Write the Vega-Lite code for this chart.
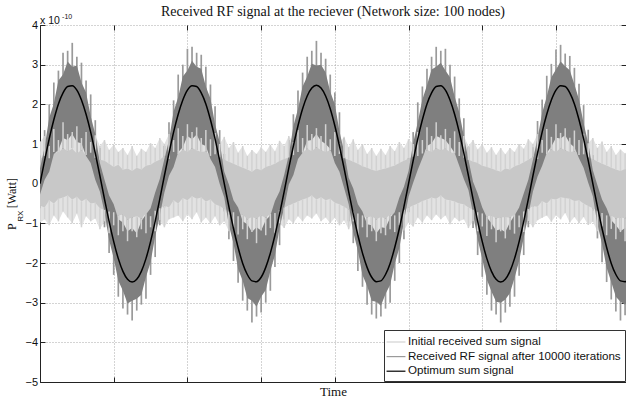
{
  "$schema": "https://vega.github.io/schema/vega-lite/v6.json",
  "width": 586,
  "height": 357,
  "autosize": {"type": "none"},
  "padding": {"left": 40, "top": 25, "right": 0, "bottom": 20},
  "background": "white",
  "title": {
    "text": "Received RF signal at the reciever (Network size: 100 nodes)",
    "font": "Liberation Serif",
    "fontSize": 14,
    "fontWeight": "normal",
    "color": "#111",
    "anchor": "middle",
    "frame": "group",
    "offset": 7,
    "dy": 13
  },
  "datasets": {
    "sig": [
      {"k":0,"o":0,"a":-0.62,"b":-0.27,"c":0.38,"d":0.71,"e":-0.98,"f":-0.55,"g":0.62,"h":1.05},
      {"k":1,"o":0.58,"a":-0.3,"b":0.1,"c":0.92,"d":1.35,"e":-0.9,"f":-0.6,"g":0.7,"h":1.2},
      {"k":2,"o":1.13,"a":-0.15,"b":0.3,"c":1.66,"d":2.0,"e":-1.05,"f":-0.42,"g":0.64,"h":0.95},
      {"k":3,"o":1.61,"a":0.42,"b":0.75,"c":2.02,"d":2.55,"e":-0.8,"f":-0.5,"g":0.8,"h":1.38},
      {"k":4,"o":2.01,"a":0.5,"b":0.85,"c":2.6,"d":2.85,"e":-0.95,"f":-0.38,"g":0.78,"h":1.1},
      {"k":5,"o":2.29,"a":0.7,"b":1.15,"c":2.75,"d":3.3,"e":-0.7,"f":-0.35,"g":0.9,"h":1.55},
      {"k":6,"o":2.45,"a":0.75,"b":1.1,"c":3.08,"d":3.35,"e":-0.85,"f":-0.3,"g":0.82,"h":1.25},
      {"k":7,"o":2.47,"a":0.9,"b":1.25,"c":2.95,"d":3.55,"e":-1.0,"f":-0.4,"g":0.88,"h":1.3},
      {"k":8,"o":2.36,"a":0.6,"b":1.05,"c":2.98,"d":3.2,"e":-0.75,"f":-0.33,"g":0.76,"h":1.45},
      {"k":9,"o":2.11,"a":0.55,"b":1.02,"c":2.55,"d":3.05,"e":-1.1,"f":-0.45,"g":0.85,"h":1.15},
      {"k":10,"o":1.75,"a":0.3,"b":0.7,"c":2.3,"d":2.6,"e":-0.82,"f":-0.38,"g":0.72,"h":1.3},
      {"k":11,"o":1.3,"a":0.1,"b":0.52,"c":1.7,"d":2.25,"e":-0.95,"f":-0.5,"g":0.78,"h":1.05},
      {"k":12,"o":0.77,"a":-0.3,"b":0.1,"c":1.25,"d":1.6,"e":-0.88,"f":-0.48,"g":0.65,"h":1.22},
      {"k":13,"o":0.2,"a":-0.55,"b":-0.2,"c":0.52,"d":0.9,"e":-1.15,"f":-0.62,"g":0.6,"h":0.95},
      {"k":14,"o":-0.39,"a":-1.1,"b":-0.72,"c":0.1,"d":0.45,"e":-0.95,"f":-0.66,"g":0.58,"h":1.1},
      {"k":15,"o":-0.95,"a":-1.75,"b":-1.42,"c":-0.3,"d":0.1,"e":-1.25,"f":-0.7,"g":0.5,"h":0.85},
      {"k":16,"o":-1.46,"a":-2.3,"b":-1.88,"c":-0.52,"d":-0.1,"e":-1.05,"f":-0.72,"g":0.42,"h":0.98},
      {"k":17,"o":-1.89,"a":-2.85,"b":-2.45,"c":-0.9,"d":-0.4,"e":-1.3,"f":-0.8,"g":0.48,"h":0.8},
      {"k":18,"o":-2.21,"a":-3.15,"b":-2.7,"c":-0.98,"d":-0.6,"e":-1.2,"f":-0.78,"g":0.35,"h":0.9},
      {"k":19,"o":-2.41,"a":-3.3,"b":-3.02,"c":-1.2,"d":-0.75,"e":-1.45,"f":-0.9,"g":0.38,"h":0.72},
      {"k":20,"o":-2.48,"a":-3.45,"b":-2.95,"c":-1.12,"d":-0.7,"e":-1.2,"f":-0.85,"g":0.32,"h":0.95},
      {"k":21,"o":-2.41,"a":-3.2,"b":-2.9,"c":-1.25,"d":-0.85,"e":-1.35,"f":-0.82,"g":0.4,"h":0.7},
      {"k":22,"o":-2.21,"a":-3.05,"b":-2.8,"c":-0.95,"d":-0.5,"e":-1.15,"f":-0.88,"g":0.36,"h":0.88},
      {"k":23,"o":-1.89,"a":-2.9,"b":-2.35,"c":-0.78,"d":-0.45,"e":-1.25,"f":-0.75,"g":0.45,"h":0.8},
      {"k":24,"o":-1.46,"a":-2.3,"b":-1.98,"c":-0.62,"d":-0.2,"e":-1.1,"f":-0.82,"g":0.48,"h":1.02},
      {"k":25,"o":-0.95,"a":-1.85,"b":-1.33,"c":-0.22,"d":0.15,"e":-1.2,"f":-0.68,"g":0.55,"h":0.9},
      {"k":26,"o":-0.39,"a":-1.05,"b":-0.8,"c":0.12,"d":0.5,"e":-0.92,"f":-0.62,"g":0.6,"h":1.15},
      {"k":27,"o":0.2,"a":-0.6,"b":-0.22,"c":0.62,"d":0.95,"e":-1.1,"f":-0.55,"g":0.7,"h":1.0},
      {"k":28,"o":0.77,"a":-0.25,"b":0.2,"c":1.1,"d":1.55,"e":-0.9,"f":-0.6,"g":0.62,"h":1.25},
      {"k":29,"o":1.3,"a":0.05,"b":0.42,"c":1.82,"d":2.1,"e":-0.85,"f":-0.42,"g":0.8,"h":1.1},
      {"k":30,"o":1.75,"a":0.4,"b":0.8,"c":2.18,"d":2.75,"e":-0.8,"f":-0.5,"g":0.75,"h":1.4},
      {"k":31,"o":2.11,"a":0.45,"b":0.92,"c":2.7,"d":3.0,"e":-0.95,"f":-0.36,"g":0.86,"h":1.2},
      {"k":32,"o":2.36,"a":0.8,"b":1.2,"c":2.85,"d":3.4,"e":-0.78,"f":-0.42,"g":0.8,"h":1.5},
      {"k":33,"o":2.47,"a":0.7,"b":1.12,"c":3.1,"d":3.45,"e":-0.9,"f":-0.32,"g":0.9,"h":1.3},
      {"k":34,"o":2.45,"a":0.85,"b":1.24,"c":2.95,"d":3.3,"e":-0.72,"f":-0.38,"g":0.84,"h":1.42},
      {"k":35,"o":2.29,"a":0.55,"b":1.0,"c":2.9,"d":3.25,"e":-0.98,"f":-0.35,"g":0.8,"h":1.15},
      {"k":36,"o":2.01,"a":0.6,"b":0.95,"c":2.45,"d":2.95,"e":-0.85,"f":-0.45,"g":0.82,"h":1.35},
      {"k":37,"o":1.61,"a":0.2,"b":0.62,"c":2.15,"d":2.5,"e":-1.0,"f":-0.4,"g":0.7,"h":1.12},
      {"k":38,"o":1.13,"a":0.0,"b":0.42,"c":1.5,"d":1.95,"e":-0.82,"f":-0.52,"g":0.74,"h":1.28},
      {"k":39,"o":0.58,"a":-0.42,"b":0.0,"c":1.05,"d":1.35,"e":-1.05,"f":-0.56,"g":0.66,"h":1.0},
      {"k":40,"o":0,"a":-0.7,"b":-0.35,"c":0.3,"d":0.75,"e":-0.95,"f":-0.64,"g":0.6,"h":1.18},
      {"k":41,"o":-0.58,"a":-1.4,"b":-1.05,"c":-0.02,"d":0.35,"e":-1.2,"f":-0.7,"g":0.55,"h":0.9},
      {"k":42,"o":-1.13,"a":-1.95,"b":-1.5,"c":-0.42,"d":-0.05,"e":-1.1,"f":-0.72,"g":0.5,"h":1.05},
      {"k":43,"o":-1.61,"a":-2.5,"b":-2.15,"c":-0.6,"d":-0.3,"e":-1.28,"f":-0.82,"g":0.45,"h":0.78},
      {"k":44,"o":-2.01,"a":-2.95,"b":-2.45,"c":-0.95,"d":-0.5,"e":-1.15,"f":-0.78,"g":0.4,"h":0.95},
      {"k":45,"o":-2.29,"a":-3.2,"b":-2.88,"c":-1.02,"d":-0.65,"e":-1.4,"f":-0.9,"g":0.36,"h":0.7},
      {"k":46,"o":-2.45,"a":-3.5,"b":-2.95,"c":-1.22,"d":-0.8,"e":-1.22,"f":-0.84,"g":0.3,"h":0.85},
      {"k":47,"o":-2.47,"a":-3.35,"b":-3.1,"c":-1.1,"d":-0.72,"e":-1.5,"f":-0.88,"g":0.38,"h":0.75},
      {"k":48,"o":-2.36,"a":-3.25,"b":-2.85,"c":-1.18,"d":-0.7,"e":-1.18,"f":-0.8,"g":0.34,"h":0.92},
      {"k":49,"o":-2.11,"a":-3.0,"b":-2.68,"c":-0.92,"d":-0.55,"e":-1.3,"f":-0.86,"g":0.42,"h":0.8},
      {"k":50,"o":-1.75,"a":-2.7,"b":-2.2,"c":-0.8,"d":-0.38,"e":-1.12,"f":-0.76,"g":0.46,"h":0.98},
      {"k":51,"o":-1.3,"a":-2.1,"b":-1.8,"c":-0.44,"d":-0.1,"e":-1.25,"f":-0.74,"g":0.5,"h":0.82},
      {"k":52,"o":-0.77,"a":-1.55,"b":-1.12,"c":-0.2,"d":0.2,"e":-1.0,"f":-0.66,"g":0.57,"h":1.08},
      {"k":53,"o":-0.2,"a":-0.9,"b":-0.6,"c":0.22,"d":0.55,"e":-1.12,"f":-0.6,"g":0.62,"h":0.95},
      {"k":54,"o":0.39,"a":-0.45,"b":-0.02,"c":0.72,"d":1.1,"e":-0.9,"f":-0.55,"g":0.66,"h":1.2},
      {"k":55,"o":0.95,"a":-0.15,"b":0.22,"c":1.45,"d":1.75,"e":-1.0,"f":-0.5,"g":0.72,"h":1.05},
      {"k":56,"o":1.46,"a":0.25,"b":0.62,"c":1.88,"d":2.35,"e":-0.82,"f":-0.45,"g":0.8,"h":1.35},
      {"k":57,"o":1.89,"a":0.35,"b":0.78,"c":2.45,"d":2.8,"e":-0.95,"f":-0.4,"g":0.78,"h":1.15},
      {"k":58,"o":2.21,"a":0.62,"b":1.08,"c":2.7,"d":3.2,"e":-0.8,"f":-0.36,"g":0.88,"h":1.48},
      {"k":59,"o":2.41,"a":0.72,"b":1.1,"c":3.02,"d":3.35,"e":-0.88,"f":-0.3,"g":0.82,"h":1.25},
      {"k":60,"o":2.48,"a":0.85,"b":1.25,"c":2.98,"d":3.6,"e":-0.75,"f":-0.4,"g":0.92,"h":1.4},
      {"k":61,"o":2.41,"a":0.6,"b":1.08,"c":3.0,"d":3.3,"e":-0.95,"f":-0.34,"g":0.85,"h":1.2},
      {"k":62,"o":2.21,"a":0.58,"b":1.0,"c":2.8,"d":3.15,"e":-0.85,"f":-0.42,"g":0.8,"h":1.5},
      {"k":63,"o":1.89,"a":0.45,"b":0.88,"c":2.32,"d":2.75,"e":-1.0,"f":-0.38,"g":0.84,"h":1.12},
      {"k":64,"o":1.46,"a":0.12,"b":0.52,"c":2.0,"d":2.3,"e":-0.86,"f":-0.48,"g":0.7,"h":1.3},
      {"k":65,"o":0.95,"a":-0.12,"b":0.3,"c":1.32,"d":1.8,"e":-1.05,"f":-0.52,"g":0.75,"h":1.02},
      {"k":66,"o":0.39,"a":-0.5,"b":-0.1,"c":0.82,"d":1.15,"e":-0.92,"f":-0.58,"g":0.64,"h":1.18},
      {"k":67,"o":-0.2,"a":-0.95,"b":-0.52,"c":0.15,"d":0.5,"e":-1.15,"f":-0.65,"g":0.6,"h":0.92},
      {"k":68,"o":-0.77,"a":-1.5,"b":-1.22,"c":-0.12,"d":0.25,"e":-0.95,"f":-0.7,"g":0.55,"h":1.12},
      {"k":69,"o":-1.3,"a":-2.2,"b":-1.7,"c":-0.52,"d":-0.15,"e":-1.3,"f":-0.75,"g":0.5,"h":0.85},
      {"k":70,"o":-1.75,"a":-2.6,"b":-2.3,"c":-0.7,"d":-0.35,"e":-1.1,"f":-0.8,"g":0.44,"h":1.0},
      {"k":71,"o":-2.11,"a":-3.05,"b":-2.58,"c":-1.02,"d":-0.6,"e":-1.35,"f":-0.85,"g":0.4,"h":0.75},
      {"k":72,"o":-2.36,"a":-3.3,"b":-2.95,"c":-1.05,"d":-0.72,"e":-1.2,"f":-0.82,"g":0.35,"h":0.9},
      {"k":73,"o":-2.47,"a":-3.4,"b":-2.98,"c":-1.25,"d":-0.8,"e":-1.45,"f":-0.9,"g":0.32,"h":0.7},
      {"k":74,"o":-2.45,"a":-3.35,"b":-3.08,"c":-1.1,"d":-0.68,"e":-1.25,"f":-0.84,"g":0.36,"h":0.88},
      {"k":75,"o":-2.29,"a":-3.15,"b":-2.78,"c":-1.12,"d":-0.7,"e":-1.3,"f":-0.88,"g":0.38,"h":0.72},
      {"k":76,"o":-2.01,"a":-3.0,"b":-2.55,"c":-0.86,"d":-0.45,"e":-1.15,"f":-0.78,"g":0.42,"h":0.95},
      {"k":77,"o":-1.61,"a":-2.45,"b":-2.02,"c":-0.72,"d":-0.3,"e":-1.22,"f":-0.8,"g":0.46,"h":0.82},
      {"k":78,"o":-1.13,"a":-2.0,"b":-1.62,"c":-0.35,"d":0.0,"e":-1.05,"f":-0.72,"g":0.52,"h":1.05},
      {"k":79,"o":-0.58,"a":-1.4,"b":-0.95,"c":-0.08,"d":0.3,"e":-1.18,"f":-0.66,"g":0.58,"h":0.9},
      {"k":80,"o":0,"a":-0.72,"b":-0.33,"c":0.32,"d":0.65,"e":-0.98,"f":-0.6,"g":0.63,"h":1.12},
      {"k":81,"o":0.58,"a":-0.4,"b":0.02,"c":1.02,"d":1.3,"e":-1.08,"f":-0.55,"g":0.68,"h":1.0},
      {"k":82,"o":1.13,"a":-0.05,"b":0.35,"c":1.55,"d":2.05,"e":-0.85,"f":-0.5,"g":0.7,"h":1.3},
      {"k":83,"o":1.61,"a":0.25,"b":0.64,"c":2.12,"d":2.45,"e":-0.98,"f":-0.44,"g":0.76,"h":1.1},
      {"k":84,"o":2.01,"a":0.55,"b":0.95,"c":2.48,"d":2.9,"e":-0.8,"f":-0.4,"g":0.85,"h":1.42},
      {"k":85,"o":2.29,"a":0.6,"b":1.02,"c":2.88,"d":3.2,"e":-0.92,"f":-0.35,"g":0.8,"h":1.2},
      {"k":86,"o":2.45,"a":0.8,"b":1.2,"c":2.95,"d":3.45,"e":-0.78,"f":-0.38,"g":0.9,"h":1.55},
      {"k":87,"o":2.47,"a":0.7,"b":1.15,"c":3.05,"d":3.35,"e":-0.9,"f":-0.3,"g":0.84,"h":1.22},
      {"k":88,"o":2.36,"a":0.72,"b":1.1,"c":2.85,"d":3.4,"e":-0.8,"f":-0.4,"g":0.88,"h":1.38},
      {"k":89,"o":2.11,"a":0.5,"b":0.95,"c":2.68,"d":3.0,"e":-1.02,"f":-0.42,"g":0.8,"h":1.15},
      {"k":90,"o":1.75,"a":0.35,"b":0.78,"c":2.2,"d":2.7,"e":-0.85,"f":-0.45,"g":0.76,"h":1.32},
      {"k":91,"o":1.3,"a":0.05,"b":0.45,"c":1.8,"d":2.15,"e":-0.95,"f":-0.5,"g":0.7,"h":1.05},
      {"k":92,"o":0.77,"a":-0.28,"b":0.12,"c":1.2,"d":1.65,"e":-0.9,"f":-0.52,"g":0.66,"h":1.2},
      {"k":93,"o":0.2,"a":-0.5,"b":-0.16,"c":0.6,"d":0.92,"e":-1.12,"f":-0.6,"g":0.6,"h":0.95},
      {"k":94,"o":-0.39,"a":-1.12,"b":-0.75,"c":0.05,"d":0.4,"e":-0.95,"f":-0.66,"g":0.56,"h":1.1},
      {"k":95,"o":-0.95,"a":-1.8,"b":-1.4,"c":-0.25,"d":0.12,"e":-1.2,"f":-0.72,"g":0.52,"h":0.86},
      {"k":96,"o":-1.46,"a":-2.35,"b":-1.9,"c":-0.6,"d":-0.18,"e":-1.08,"f":-0.75,"g":0.45,"h":1.0},
      {"k":97,"o":-1.89,"a":-2.8,"b":-2.42,"c":-0.85,"d":-0.45,"e":-1.32,"f":-0.82,"g":0.42,"h":0.78},
      {"k":98,"o":-2.21,"a":-3.2,"b":-2.72,"c":-1.0,"d":-0.58,"e":-1.15,"f":-0.8,"g":0.38,"h":0.92},
      {"k":99,"o":-2.41,"a":-3.3,"b":-2.98,"c":-1.18,"d":-0.78,"e":-1.48,"f":-0.88,"g":0.34,"h":0.72},
      {"k":100,"o":-2.48,"a":-3.5,"b":-3.0,"c":-1.15,"d":-0.72,"e":-1.2,"f":-0.85,"g":0.3,"h":0.9},
      {"k":101,"o":-2.41,"a":-3.25,"b":-2.92,"c":-1.22,"d":-0.82,"e":-1.38,"f":-0.84,"g":0.38,"h":0.74},
      {"k":102,"o":-2.21,"a":-3.1,"b":-2.76,"c":-0.98,"d":-0.55,"e":-1.16,"f":-0.86,"g":0.36,"h":0.9},
      {"k":103,"o":-1.89,"a":-2.85,"b":-2.38,"c":-0.8,"d":-0.42,"e":-1.26,"f":-0.77,"g":0.44,"h":0.8},
      {"k":104,"o":-1.46,"a":-2.32,"b":-1.95,"c":-0.6,"d":-0.22,"e":-1.1,"f":-0.8,"g":0.48,"h":1.0},
      {"k":105,"o":-0.95,"a":-1.8,"b":-1.36,"c":-0.25,"d":0.12,"e":-1.22,"f":-0.7,"g":0.54,"h":0.88},
      {"k":106,"o":-0.39,"a":-1.1,"b":-0.78,"c":0.1,"d":0.48,"e":-0.94,"f":-0.64,"g":0.6,"h":1.12},
      {"k":107,"o":0.2,"a":-0.58,"b":-0.2,"c":0.6,"d":0.92,"e":-1.1,"f":-0.56,"g":0.68,"h":1.0},
      {"k":108,"o":0.77,"a":-0.22,"b":0.18,"c":1.15,"d":1.58,"e":-0.92,"f":-0.58,"g":0.62,"h":1.25},
      {"k":109,"o":1.3,"a":0.05,"b":0.45,"c":1.78,"d":2.12,"e":-0.86,"f":-0.44,"g":0.78,"h":1.1},
      {"k":110,"o":1.75,"a":0.38,"b":0.78,"c":2.2,"d":2.72,"e":-0.8,"f":-0.5,"g":0.74,"h":1.38},
      {"k":111,"o":2.11,"a":0.48,"b":0.94,"c":2.68,"d":3.02,"e":-0.96,"f":-0.38,"g":0.86,"h":1.18},
      {"k":112,"o":2.36,"a":0.78,"b":1.16,"c":2.88,"d":3.38,"e":-0.8,"f":-0.4,"g":0.8,"h":1.5},
      {"k":113,"o":2.47,"a":0.72,"b":1.14,"c":3.08,"d":3.5,"e":-0.9,"f":-0.34,"g":0.9,"h":1.28},
      {"k":114,"o":2.45,"a":0.82,"b":1.22,"c":2.96,"d":3.28,"e":-0.74,"f":-0.36,"g":0.84,"h":1.4},
      {"k":115,"o":2.29,"a":0.56,"b":1.02,"c":2.86,"d":3.22,"e":-0.98,"f":-0.38,"g":0.8,"h":1.16},
      {"k":116,"o":2.01,"a":0.58,"b":0.92,"c":2.5,"d":2.92,"e":-0.84,"f":-0.44,"g":0.82,"h":1.34},
      {"k":117,"o":1.61,"a":0.22,"b":0.64,"c":2.12,"d":2.52,"e":-1.0,"f":-0.42,"g":0.72,"h":1.1},
      {"k":118,"o":1.13,"a":0.02,"b":0.4,"c":1.52,"d":1.98,"e":-0.84,"f":-0.5,"g":0.74,"h":1.26},
      {"k":119,"o":0.58,"a":-0.4,"b":0.02,"c":1.02,"d":1.36,"e":-1.04,"f":-0.56,"g":0.66,"h":1.02},
      {"k":120,"o":0,"a":-0.68,"b":-0.32,"c":0.34,"d":0.72,"e":-0.96,"f":-0.62,"g":0.62,"h":1.15},
      {"k":121,"o":-0.58,"a":-1.38,"b":-1.02,"c":-0.04,"d":0.32,"e":-1.2,"f":-0.68,"g":0.56,"h":0.9},
      {"k":122,"o":-1.13,"a":-1.98,"b":-1.52,"c":-0.4,"d":-0.05,"e":-1.08,"f":-0.74,"g":0.5,"h":1.06},
      {"k":123,"o":-1.61,"a":-2.48,"b":-2.12,"c":-0.62,"d":-0.3,"e":-1.3,"f":-0.8,"g":0.46,"h":0.8},
      {"k":124,"o":-2.01,"a":-2.92,"b":-2.48,"c":-0.92,"d":-0.5,"e":-1.14,"f":-0.8,"g":0.4,"h":0.95},
      {"k":125,"o":-2.29,"a":-3.22,"b":-2.85,"c":-1.05,"d":-0.66,"e":-1.4,"f":-0.88,"g":0.36,"h":0.72},
      {"k":126,"o":-2.45,"a":-3.45,"b":-2.98,"c":-1.2,"d":-0.78,"e":-1.22,"f":-0.85,"g":0.32,"h":0.86},
      {"k":127,"o":-2.47,"a":-3.32,"b":-3.05,"c":-1.12,"d":-0.7,"e":-1.45,"f":-0.87,"g":0.37,"h":0.76},
      {"k":128,"o":-2.36,"a":-3.25,"b":-2.88,"c":-1.16,"d":-0.72,"e":-1.2,"f":-0.8,"g":0.34,"h":0.9}
    ]
  },
  "data": {"name": "sig"},
  "layer": [
    {
      "encoding": {
        "x": {
          "field": "k",
          "type": "quantitative",
          "scale": {"domain": [0, 127.2], "nice": false, "zero": false},
          "axis": {
            "values": [0, 16, 32, 48, 64, 80, 96, 112],
            "labels": false,
            "tickSize": -5,
            "title": "Time",
            "titleFontSize": 13,
            "titlePadding": 3
          }
        }
      },
      "layer": [
        {
          "mark": {"type": "area", "color": "#e2e2e2", "interpolate": "linear", "clip": true},
          "encoding": {
            "y": {"field": "e", "type": "quantitative", "scale": {"domain": [-5, 4], "nice": false, "zero": false},
              "axis": {"values": [-5, -4, -3, -2, -1, 0, 1, 2, 3, 4], "labelOverlap": false, "tickSize": -5, "labelPadding": 7.5, "title": "P\u2003\u2005[Watt]", "titleFontSize": 12, "titlePadding": 6}},
            "y2": {"field": "h"}
          }
        },
        {
          "mark": {"type": "rule", "strokeWidth": 1.7, "clip": true},
          "encoding": {
            "y": {"field": "a", "type": "quantitative", "scale": {"domain": [-5, 4], "nice": false, "zero": false},
              "axis": {"values": [-5, -4, -3, -2, -1, 0, 1, 2, 3, 4], "labelOverlap": false, "tickSize": -5, "labelPadding": 7.5, "title": "P\u2003\u2005[Watt]", "titleFontSize": 12, "titlePadding": 6}},
            "y2": {"field": "d"},
            "stroke": {
              "datum": "Received RF signal after 10000 iterations",
              "type": "nominal",
              "scale": {
                "domain": ["Initial received sum signal", "Received RF signal after 10000 iterations", "Optimum sum signal"],
                "range": ["#d2d2d2", "#9a9a9a", "#000000"]
              },
              "legend": {
                "title": null,
                "orient": "none",
                "legendX": 344,
                "legendY": 305,
                "direction": "vertical",
                "symbolType": "M-1.35,0H1.35",
                "symbolSize": 196,
                "symbolStrokeWidth": 1.2,
                "labelFont": "Liberation Sans",
                "labelFontSize": 11.6,
                "labelColor": "#111",
                "labelOffset": 4,
                "labelLimit": 0,
                "rowPadding": 0.6,
                "padding": 4,
                "strokeColor": "#333",
                "fillColor": "white",
                "cornerRadius": 0
              }
            }
          }
        },
        {
          "mark": {"type": "area", "color": "#c8c8c8", "interpolate": "linear", "clip": true},
          "encoding": {
            "y": {"field": "f", "type": "quantitative", "scale": {"domain": [-5, 4], "nice": false, "zero": false},
              "axis": {"values": [-5, -4, -3, -2, -1, 0, 1, 2, 3, 4], "labelOverlap": false, "tickSize": -5, "labelPadding": 7.5, "title": "P\u2003\u2005[Watt]", "titleFontSize": 12, "titlePadding": 6}},
            "y2": {"field": "g"}
          }
        },
        {
          "mark": {"type": "area", "color": "#7f7f7f", "interpolate": "linear", "clip": true},
          "encoding": {
            "y": {"field": "b", "type": "quantitative", "scale": {"domain": [-5, 4], "nice": false, "zero": false},
              "axis": {"values": [-5, -4, -3, -2, -1, 0, 1, 2, 3, 4], "labelOverlap": false, "tickSize": -5, "labelPadding": 7.5, "title": "P\u2003\u2005[Watt]", "titleFontSize": 12, "titlePadding": 6}},
            "y2": {"field": "c"}
          }
        },
        {
          "mark": {"type": "rule", "strokeWidth": 1.5, "clip": true},
          "encoding": {
            "y": {"field": "g", "type": "quantitative", "scale": {"domain": [-5, 4], "nice": false, "zero": false},
              "axis": {"values": [-5, -4, -3, -2, -1, 0, 1, 2, 3, 4], "labelOverlap": false, "tickSize": -5, "labelPadding": 7.5, "title": "P\u2003\u2005[Watt]", "titleFontSize": 12, "titlePadding": 6}},
            "y2": {"field": "h"},
            "stroke": {"datum": "Initial received sum signal", "type": "nominal"}
          }
        },
        {
          "mark": {"type": "rule", "strokeWidth": 1.5, "clip": true},
          "encoding": {
            "y": {"field": "e", "type": "quantitative", "scale": {"domain": [-5, 4], "nice": false, "zero": false},
              "axis": {"values": [-5, -4, -3, -2, -1, 0, 1, 2, 3, 4], "labelOverlap": false, "tickSize": -5, "labelPadding": 7.5, "title": "P\u2003\u2005[Watt]", "titleFontSize": 12, "titlePadding": 6}},
            "y2": {"field": "f"},
            "stroke": {"datum": "Initial received sum signal", "type": "nominal"}
          }
        },
        {
          "mark": {"type": "line", "strokeWidth": 1.5, "interpolate": "monotone", "clip": true},
          "encoding": {
            "y": {"field": "o", "type": "quantitative", "scale": {"domain": [-5, 4], "nice": false, "zero": false},
              "axis": {"values": [-5, -4, -3, -2, -1, 0, 1, 2, 3, 4], "labelOverlap": false, "tickSize": -5, "labelPadding": 7.5, "title": "P\u2003\u2005[Watt]", "titleFontSize": 12, "titlePadding": 6}},
            "stroke": {"datum": "Optimum sum signal", "type": "nominal"}
          }
        },
        {
          "transform": [{"filter": "datum.k == 0"}],
          "mark": {"type": "text", "text": "x 10", "font": "Liberation Sans", "fontSize": 10.5, "align": "left", "baseline": "alphabetic", "color": "#111"},
          "encoding": {
            "x": {"datum": 0},
            "y": {"datum": 4.03, "type": "quantitative", "scale": {"domain": [-5, 4], "nice": false, "zero": false},
              "axis": {"values": [-5, -4, -3, -2, -1, 0, 1, 2, 3, 4], "labelOverlap": false, "tickSize": -5, "labelPadding": 7.5, "title": "P\u2003\u2005[Watt]", "titleFontSize": 12, "titlePadding": 6}}
          }
        },
        {
          "transform": [{"filter": "datum.k == 0"}],
          "mark": {"type": "text", "text": "-10", "font": "Liberation Sans", "fontSize": 7, "align": "left", "baseline": "alphabetic", "color": "#111"},
          "encoding": {
            "x": {"datum": 4.8},
            "y": {"datum": 4.14, "type": "quantitative", "scale": {"domain": [-5, 4], "nice": false, "zero": false},
              "axis": {"values": [-5, -4, -3, -2, -1, 0, 1, 2, 3, 4], "labelOverlap": false, "tickSize": -5, "labelPadding": 7.5, "title": "P\u2003\u2005[Watt]", "titleFontSize": 12, "titlePadding": 6}}
          }
        },
        {
          "transform": [{"filter": "datum.k == 0"}],
          "mark": {"type": "text", "text": "RX", "font": "Liberation Sans", "fontSize": 8, "align": "center", "baseline": "middle", "angle": 270, "color": "#111"},
          "encoding": {
            "x": {"datum": -4.23},
            "y": {"datum": -0.82, "type": "quantitative", "scale": {"domain": [-5, 4], "nice": false, "zero": false},
              "axis": {"values": [-5, -4, -3, -2, -1, 0, 1, 2, 3, 4], "labelOverlap": false, "tickSize": -5, "labelPadding": 7.5, "title": "P\u2003\u2005[Watt]", "titleFontSize": 12, "titlePadding": 6}}
          }
        }
      ]
    },
    {
      "mark": {"type": "point", "opacity": 0},
      "encoding": {
        "x": {
          "field": "k",
          "type": "quantitative",
          "scale": {"domain": [0, 127.2], "nice": false, "zero": false},
          "axis": {"orient": "top", "values": [0, 16, 32, 48, 64, 80, 96, 112], "labels": false, "domain": false, "grid": false, "tickSize": -5, "title": null}
        },
        "y": {
          "field": "o",
          "type": "quantitative",
          "scale": {"domain": [-5, 4], "nice": false, "zero": false},
          "axis": {"orient": "right", "values": [-5, -4, -3, -2, -1, 0, 1, 2, 3, 4], "labels": false, "domain": false, "grid": false, "tickSize": -5, "title": null}
        }
      }
    }
  ],
  "resolve": {"axis": {"x": "independent", "y": "independent"}},
  "config": {
    "view": {"stroke": null},
    "axis": {
      "domainColor": "#222",
      "tickColor": "#222",
      "gridColor": "#a8a8a8",
      "gridDash": [1, 2],
      "gridWidth": 1,
      "labelFont": "Liberation Sans",
      "labelFontSize": 11,
      "labelColor": "#111",
      "titleFont": "Liberation Serif",
      "titleFontWeight": "normal",
      "titleColor": "#111"
    }
  }
}
